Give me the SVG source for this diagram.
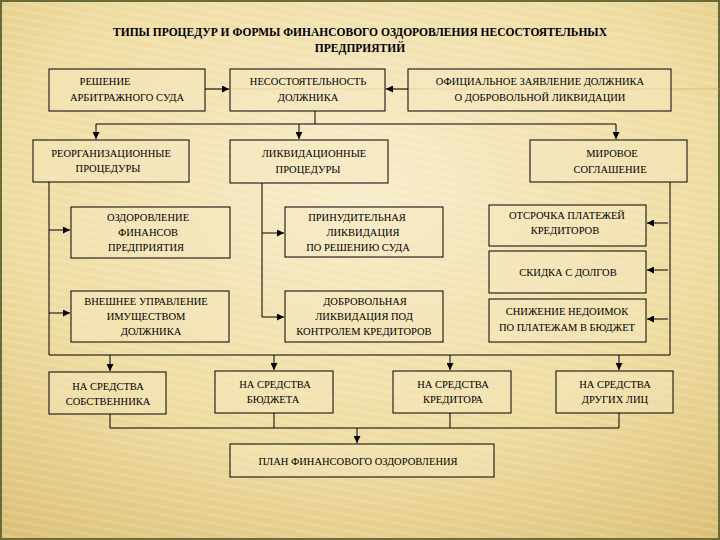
<svg xmlns="http://www.w3.org/2000/svg" width="720" height="540" viewBox="0 0 720 540" font-family="Liberation Serif, DejaVu Serif, serif">
<defs>
<radialGradient id="bg" cx="0.5" cy="0.35" r="0.8">
<stop offset="0" stop-color="#f8eccb"/><stop offset="0.6" stop-color="#efdca0"/><stop offset="1" stop-color="#dcc077"/>
</radialGradient>
<pattern id="st" width="8" height="8" patternUnits="userSpaceOnUse" patternTransform="rotate(-80)">
<rect width="3" height="8" fill="#ffffff" opacity="0.12"/>
</pattern>
<marker id="a" viewBox="0 0 10 10" refX="10" refY="5" markerWidth="7" markerHeight="7" markerUnits="userSpaceOnUse" orient="auto"><path d="M0,0L10,5L0,10z" fill="#000"/></marker>
</defs>
<style>
.b{fill:#f6e8c0;fill-opacity:0.45;stroke:#000;stroke-width:1}
text{font-family:"Liberation Serif",serif;font-size:10.5px;fill:#000;text-anchor:middle}
.t{font-weight:bold;font-size:11.5px}
.c{fill:none;stroke:#000;stroke-width:1}
</style>
<rect width="720" height="540" fill="url(#bg)"/>
<rect width="720" height="540" fill="url(#st)"/>
<rect x="1" y="1" width="718" height="538" fill="none" stroke="#6b6a3a" stroke-width="2"/>
<line x1="205" y1="89" x2="720" y2="89" stroke="#e0904a" stroke-width="1" opacity="0.5"/>
<g id="title"><text class="t" x="360" y="36">ТИПЫ ПРОЦЕДУР И ФОРМЫ ФИНАНСОВОГО ОЗДОРОВЛЕНИЯ НЕСОСТОЯТЕЛЬНЫХ</text><text class="t" x="360" y="52">ПРЕДПРИЯТИЙ</text></g>
<g id="n1"><rect class="b" x="49" y="69" width="156" height="42"/><text x="105" y="85">РЕШЕНИЕ</text><text x="127" y="101">АРБИТРАЖНОГО СУДА</text></g>
<g id="n2"><rect class="b" x="230" y="69" width="155" height="42"/><text x="308" y="85">НЕСОСТОЯТЕЛЬНОСТЬ</text><text x="308" y="101">ДОЛЖНИКА</text></g>
<g id="n3"><rect class="b" x="408" y="69" width="263" height="42"/><text x="540" y="85">ОФИЦИАЛЬНОЕ ЗАЯВЛЕНИЕ ДОЛЖНИКА</text><text x="540" y="101">О ДОБРОВОЛЬНОЙ ЛИКВИДАЦИИ</text></g>
<g id="n4"><rect class="b" x="33" y="140" width="156" height="42"/><text x="111" y="157">РЕОРГАНИЗАЦИОННЫЕ</text><text x="108" y="172">ПРОЦЕДУРЫ</text></g>
<g id="n5"><rect class="b" x="230" y="140" width="158" height="43"/><text x="314" y="157">ЛИКВИДАЦИОННЫЕ</text><text x="308" y="173">ПРОЦЕДУРЫ</text></g>
<g id="n6"><rect class="b" x="530" y="140" width="157" height="42"/><text x="612" y="157">МИРОВОЕ</text><text x="610" y="173">СОГЛАШЕНИЕ</text></g>
<g id="n7"><rect class="b" x="71" y="207" width="159" height="51"/><text x="148" y="221">ОЗДОРОВЛЕНИЕ</text><text x="148" y="236">ФИНАНСОВ</text><text x="146" y="251">ПРЕДПРИЯТИЯ</text></g>
<g id="n8"><rect class="b" x="71" y="291" width="158" height="51"/><text x="146" y="305">ВНЕШНЕЕ УПРАВЛЕНИЕ</text><text x="146" y="320">ИМУЩЕСТВОМ</text><text x="151" y="335">ДОЛЖНИКА</text></g>
<g id="n9"><rect class="b" x="285" y="207" width="158" height="50"/><text x="357" y="221">ПРИНУДИТЕЛЬНАЯ</text><text x="363" y="236">ЛИКВИДАЦИЯ</text><text x="358" y="251">ПО РЕШЕНИЮ СУДА</text></g>
<g id="n10"><rect class="b" x="285" y="291" width="158" height="51"/><text x="365" y="305">ДОБРОВОЛЬНАЯ</text><text x="364" y="320">ЛИКВИДАЦИЯ ПОД</text><text x="364" y="335">КОНТРОЛЕМ КРЕДИТОРОВ</text></g>
<g id="n11"><rect class="b" x="489" y="205" width="157" height="41"/><text x="567" y="219">ОТСРОЧКА ПЛАТЕЖЕЙ</text><text x="565" y="234">КРЕДИТОРОВ</text></g>
<g id="n12"><rect class="b" x="489" y="251" width="157" height="42"/><text x="568" y="276">СКИДКА С ДОЛГОВ</text></g>
<g id="n13"><rect class="b" x="489" y="299" width="157" height="43"/><text x="567" y="315">СНИЖЕНИЕ НЕДОИМОК</text><text x="567" y="331">ПО ПЛАТЕЖАМ В БЮДЖЕТ</text></g>
<g id="n14"><rect class="b" x="49" y="372" width="117" height="42"/><text x="108" y="390">НА СРЕДСТВА</text><text x="108" y="405">СОБСТВЕННИКА</text></g>
<g id="n15"><rect class="b" x="215" y="371" width="118" height="42"/><text x="275" y="388">НА СРЕДСТВА</text><text x="273" y="403">БЮДЖЕТА</text></g>
<g id="n16"><rect class="b" x="393" y="371" width="118" height="42"/><text x="453" y="388">НА СРЕДСТВА</text><text x="453" y="403">КРЕДИТОРА</text></g>
<g id="n17"><rect class="b" x="556" y="371" width="117" height="42"/><text x="615" y="388">НА СРЕДСТВА</text><text x="615" y="403">ДРУГИХ ЛИЦ</text></g>
<g id="n18"><rect class="b" x="230" y="444" width="264" height="33"/><text x="358" y="465">ПЛАН ФИНАНСОВОГО ОЗДОРОВЛЕНИЯ</text></g>
<g id="connectors">
<path class="c" d="M205,89H229" marker-end="url(#a)"/>
<path class="c" d="M408,89H386" marker-end="url(#a)"/>
<path class="c" d="M315,111V124"/>
<path class="c" d="M96,124H616"/>
<path class="c" d="M96,124V139" marker-end="url(#a)"/>
<path class="c" d="M299,124V139" marker-end="url(#a)"/>
<path class="c" d="M616,124V139" marker-end="url(#a)"/>
<path class="c" d="M49,182V355H670V182"/>
<path class="c" d="M49,230H70" marker-end="url(#a)"/>
<path class="c" d="M49,313H70" marker-end="url(#a)"/>
<path class="c" d="M262,183V317"/>
<path class="c" d="M262,233H284" marker-end="url(#a)"/>
<path class="c" d="M262,317H284" marker-end="url(#a)"/>
<path class="c" d="M668,223H647" marker-end="url(#a)"/>
<path class="c" d="M668,270H647" marker-end="url(#a)"/>
<path class="c" d="M668,319H647" marker-end="url(#a)"/>
<path class="c" d="M110,355V371" marker-end="url(#a)"/>
<path class="c" d="M274,355V370" marker-end="url(#a)"/>
<path class="c" d="M450,355V370" marker-end="url(#a)"/>
<path class="c" d="M619,355V370" marker-end="url(#a)"/>
<path class="c" d="M110,414V428H619V413M274,413V428M450,413V428"/>
<path class="c" d="M357,428V443" marker-end="url(#a)"/>
</g>
</svg>
